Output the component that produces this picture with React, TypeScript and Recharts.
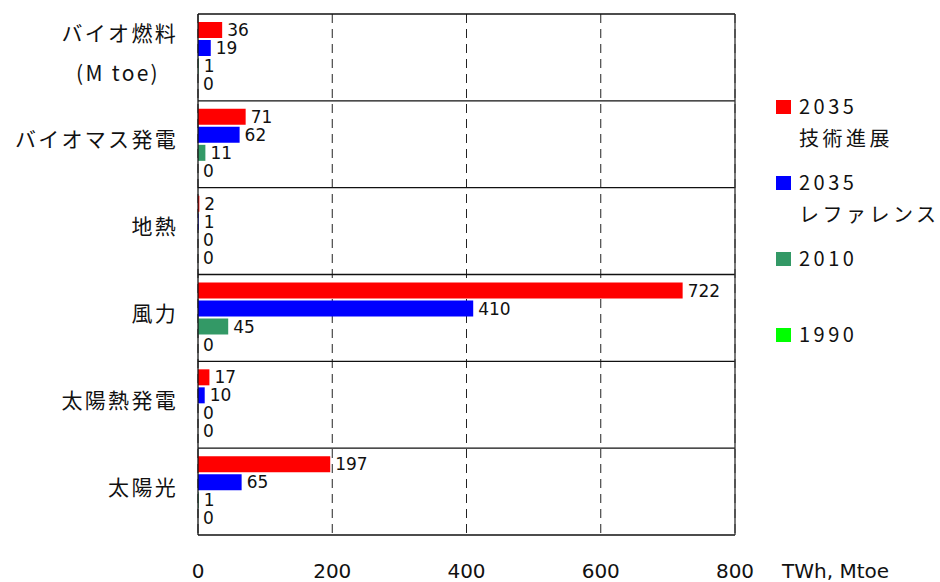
import { BarChart, Bar, XAxis, YAxis, CartesianGrid, ReferenceLine, LabelList, Label } from 'recharts';

// 再生可能エネルギー導入量（TWh、バイオ燃料のみ Mtoe）
const categories = ['バイオ燃料\n(M toe)', 'バイオマス発電', '地熱', '風力', '太陽熱発電', '太陽光'];
const tech2035 = [36, 71, 2, 722, 17, 197];
const ref2035 = [19, 62, 1, 410, 10, 65];
const y2010 = [1, 11, 0, 45, 0, 1];
const y1990 = [0, 0, 0, 0, 0, 0];

const xTicks = [0, 200, 400, 600, 800];

const series = [
  { key: 'tech2035', color: '#ff0000', lines: ['2035', '技術進展'] },
  { key: 'ref2035', color: '#0000ff', lines: ['2035', 'レファレンス'] },
  { key: 'y2010', color: '#339966', lines: ['2010', ''] },
  { key: 'y1990', color: '#00ff00', lines: ['1990'] },
];

const data = categories.map((name, i) => ({
  name,
  tech2035: tech2035[i],
  ref2035: ref2035[i],
  y2010: y2010[i],
  y1990: y1990[i],
}));

const jpFont = '"Noto Sans CJK JP", sans-serif';
const numFont = '"DejaVu Sans", sans-serif';

const CategoryTick = ({ x, y, payload }: any) => {
  const lines = String(payload.value).split('\n');
  const common = { fontFamily: jpFont, fontSize: 21, letterSpacing: 2.3, fill: '#111', dominantBaseline: 'central' as const };
  if (lines.length === 1) {
    return (
      <text x={x - 20} y={y - 6} textAnchor="end" {...common}>
        {lines[0]}
      </text>
    );
  }
  return (
    <g>
      <text x={x - 20} y={y - 25} textAnchor="end" {...common}>
        {lines[0]}
      </text>
      <text x={x - 80} y={y + 15} textAnchor="middle" {...common}>
        {lines[1]}
      </text>
    </g>
  );
};

const ValueTick = ({ x, y, payload }: any) => (
  <text x={x} y={y + 36} textAnchor="middle" dominantBaseline="central" fontFamily={numFont} fontSize={20} fill="#111">
    {payload.value}
  </text>
);

const LegendBox = () => (
  <div style={{ position: 'absolute', left: 776, top: 90, fontFamily: jpFont, fontSize: 20, letterSpacing: 3.5, color: '#111' }}>
    {series.map((s) => (
      <div key={s.key} style={{ position: 'relative', height: 76, lineHeight: '32px' }}>
        <span style={{ position: 'absolute', left: 0, top: 10, width: 15, height: 14, background: s.color }} />
        {s.lines.map((t, i) => (
          <div key={i} style={{ paddingLeft: 23, height: 32 }}>
            {t}
          </div>
        ))}
      </div>
    ))}
  </div>
);

// zero values still get a tiny bar so that their "0" label is drawn
const zeroStub = (value: any) => (value === 0 ? 0.01 : 0);

export default function App() {
  return (
    <div style={{ position: 'absolute', left: 0, top: 0, width: 940, height: 582, background: '#fff' }}>
      <BarChart
        width={940}
        height={582}
        data={data}
        layout="vertical"
        margin={{ top: 14, right: 205, bottom: 0, left: 0 }}
        barSize={16}
        barGap={2}
      >
        <CartesianGrid horizontal={false} stroke="#222" strokeDasharray="9 6" />
        <XAxis
          type="number"
          domain={[0, 800]}
          ticks={xTicks}
          height={47}
          axisLine={false}
          tickLine={false}
          tickSize={0}
          tickMargin={0}
          tick={<ValueTick />}
          interval={0}
        >
          <Label
            value="TWh, Mtoe"
            position="right"
            offset={47}
            dy={12}
            fontFamily={numFont}
            fontSize={20}
            fill="#111"
          />
        </XAxis>
        <YAxis
          type="category"
          dataKey="name"
          width={198}
          axisLine={false}
          tickLine={false}
          tickSize={0}
          tickMargin={0}
          tick={<CategoryTick />}
          interval={0}
        />
        {series.map((s) => (
          <Bar key={s.key} dataKey={s.key} fill={s.color} minPointSize={zeroStub} isAnimationActive={false}>
            <LabelList dataKey={s.key} position="right" offset={5} fontFamily={numFont} fontSize={17} fill="#111" />
          </Bar>
        ))}
        {/* solid separators at the top edge of every category band, plus the bottom edge */}
        {categories.map((c) => (
          <ReferenceLine key={c} y={c} position="start" stroke="#111" strokeWidth={1.3} />
        ))}
        <ReferenceLine y={categories[categories.length - 1]} position="end" stroke="#111" strokeWidth={1.3} />
        <ReferenceLine x={0} stroke="#111" strokeWidth={1.3} />
        <ReferenceLine x={800} stroke="#333" strokeWidth={1.3} />
      </BarChart>
      <LegendBox />
    </div>
  );
}
